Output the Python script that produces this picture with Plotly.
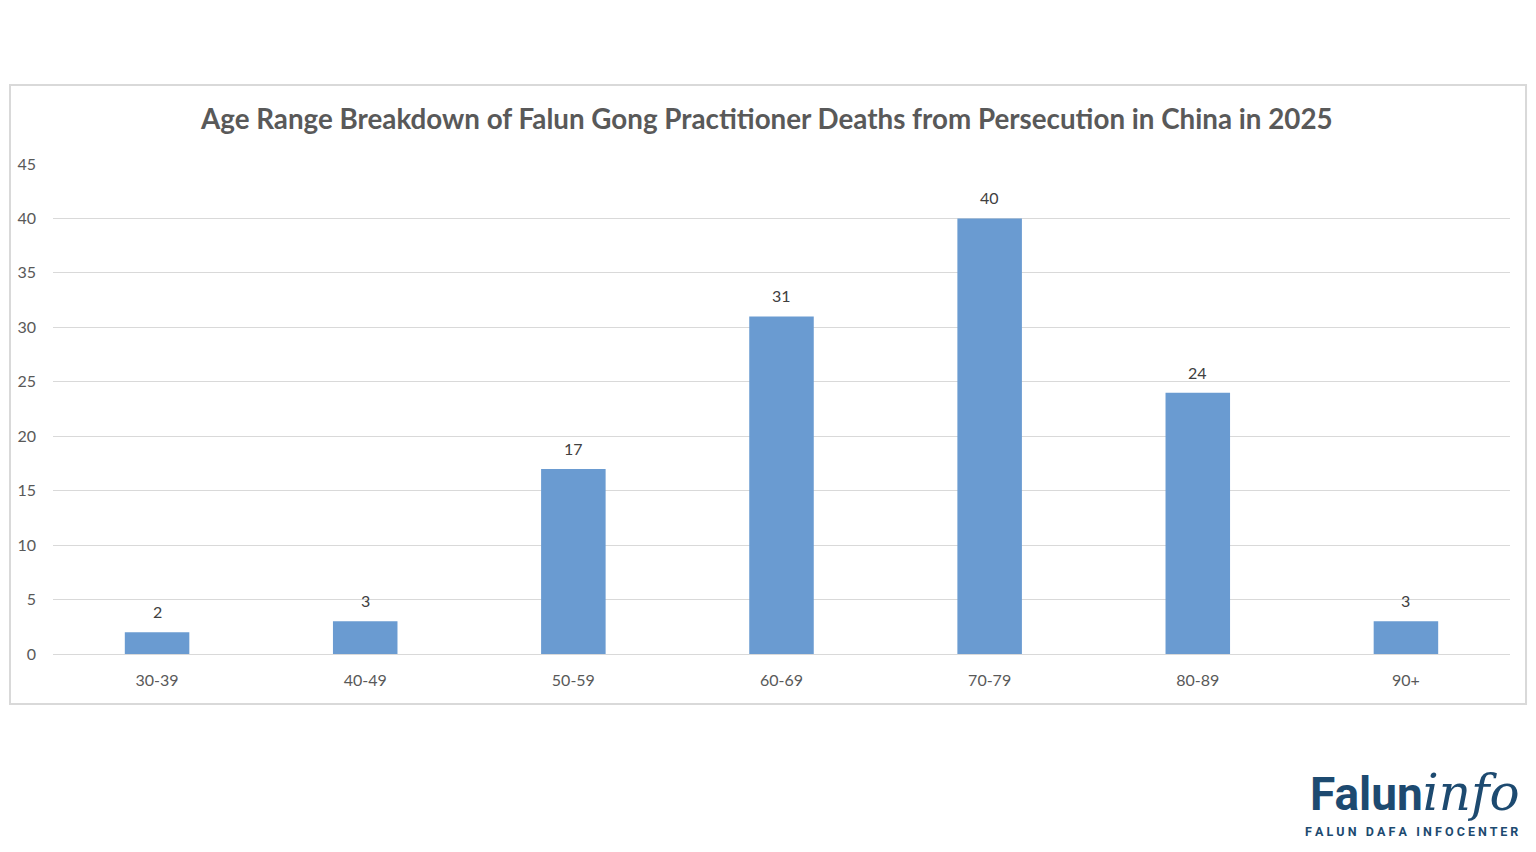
import plotly.graph_objects as go

# Age ranges and number of deaths
age_ranges = ["30-39", "40-49", "50-59", "60-69", "70-79", "80-89", "90+"]
deaths = [2, 3, 17, 31, 40, 24, 3]
y_ticks = [0, 5, 10, 15, 20, 25, 30, 35, 40, 45]

fig = go.Figure()
fig.add_trace(go.Bar(
    x=age_ranges, y=deaths,
    marker=dict(color="#6a9bd1", line=dict(width=0)),
    width=0.31,
))

# data labels above bars
for a, d in zip(age_ranges, deaths):
    fig.add_annotation(x=a, y=d, text=str(d), showarrow=False,
                       yanchor="bottom", yshift=9,
                       font=dict(family="Lato, Open Sans, sans-serif", size=16, color="#404040"))

# page has an 8px body margin, so the figure is a bit smaller than the window
fig.update_layout(
    width=1520, height=836,
    paper_bgcolor="white", plot_bgcolor="white",
    margin=dict(l=45, r=18, t=156, b=190),
    showlegend=False,
    font=dict(family="Lato, Open Sans, sans-serif", color="#595959"),
    xaxis=dict(showgrid=False, showline=False, ticks="", ticklabelstandoff=15,
               automargin=False, tickfont=dict(size=16, color="#595959")),
    yaxis=dict(range=[0, 45], tickvals=y_ticks, showgrid=True,
               gridcolor="#d9d9d9", gridwidth=1, zeroline=True,
               zerolinecolor="#d9d9d9", zerolinewidth=1, ticks="", ticklabelstandoff=16,
               automargin=False, tickfont=dict(size=16, color="#595959")),
)

# chart frame
fig.add_shape(type="rect", xref="paper", yref="paper",
              x0=-0.0295, x1=1.0110, y0=-0.102, y1=1.161,
              line=dict(color="#d9d9d9", width=2), fillcolor="rgba(0,0,0,0)")

fig.add_annotation(
    text="<b>Age Range Breakdown of Falun Gong Practitioner Deaths from Persecution in China in 2025</b>",
    xref="paper", yref="paper", x=0.49, y=1.092, xanchor="center", yanchor="middle",
    showarrow=False, font=dict(family="Lato, Open Sans, sans-serif", size=27.75, color="#595959"),
)

# logo
fig.add_annotation(
    text="<b>Falun</b><i><span style='font-family:DejaVu Serif, serif;font-weight:normal;font-size:50px'>info</span></i>",
    xref="paper", yref="paper", x=1.0082, y=-0.2837, xanchor="right", yanchor="middle",
    showarrow=False, font=dict(family="Roboto, sans-serif", size=46, color="#1d4a70"),
)
fig.add_annotation(
    text="<b>F A L U N &nbsp; D A F A &nbsp; I N F O C E N T E R</b>",
    xref="paper", yref="paper", x=1.0069, y=-0.3622, xanchor="right", yanchor="middle",
    showarrow=False, font=dict(family="Roboto, sans-serif", size=12.5, color="#1d4a70"),
)

fig.write_html("out.html")
